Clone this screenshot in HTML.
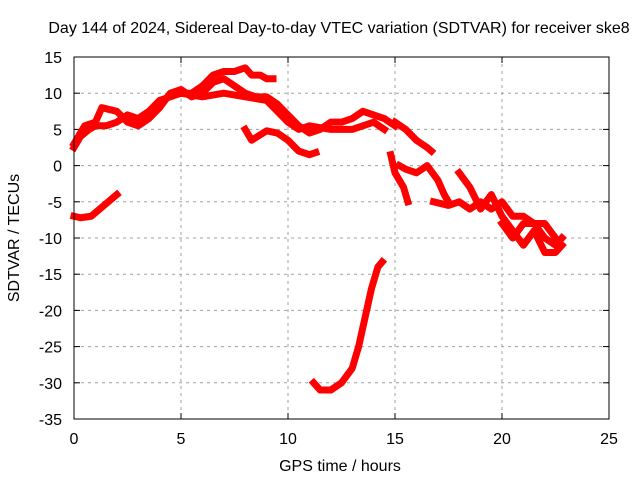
<!DOCTYPE html>
<html><head><meta charset="utf-8"><style>
body{margin:0;background:#fff}
svg text{font-family:"Liberation Sans",sans-serif;font-size:16px;fill:#000}
</style></head><body>
<svg id="chart" width="640" height="480">
<rect width="640" height="480" fill="#fff"/>
<text x="339" y="33" text-anchor="middle">Day 144 of 2024, Sidereal Day-to-day VTEC variation (SDTVAR) for receiver ske8</text>
<text x="340" y="471" text-anchor="middle">GPS time / hours</text>
<text transform="translate(19,238) rotate(-90)" text-anchor="middle">SDTVAR / TECUs</text>
<g id="grid"></g><g id="ticks"></g><g id="series"></g>
<rect x="74" y="57" width="535" height="362" fill="none" stroke="#000"/>
</svg>
<script>
const xTicks=[0,5,10,15,20,25];
const yTicks=[15,10,5,0,-5,-10,-15,-20,-25,-30,-35];
const traceA=[[0,2.5],[0.3,4],[0.7,5],[1,5.5],[1.5,5.5],[2,6],[2.5,7],[3,6.5],[3.5,7.5],[4,9],[4.5,9.5],[5,10],[5.5,10],[6,11],[6.5,12.5],[7,13],[7.5,13],[8,13.5],[8.3,12.5],[8.7,12.5],[9,12],[9.3,12]];
const traceB=[[0,3],[0.5,5.5],[1,6],[1.3,8],[2,7.5],[2.5,6],[3,5.5],[3.5,6.5],[4,8],[4.5,10],[5,10.5],[5.5,9.5],[6,10],[6.5,11.5],[7,12],[7.5,11],[8,10],[8.5,9.5],[9,9.5],[9.5,8.5],[10,7],[10.5,5.5],[11,4.5],[11.5,5],[12,6],[12.5,6],[13,6.5],[13.5,7.5],[14,7],[14.5,6.5],[15,5.5]];
const traceC=[[5,10],[6,9.5],[7,10],[8,9.5],[9,9],[10,6],[10.5,5],[11,5.5],[12,5],[13,5],[14,6],[14.5,5]];
const traceD=[[8,5],[8.3,3.5],[9,4.8],[9.5,4.5],[10,3.5],[10.5,2],[11,1.5],[11.3,1.8]];
const traceE=[[15,6],[15.5,5],[16,3.5],[16.5,2.5],[16.7,2]];
const traceF=[[14.8,1.5],[15,-1],[15.2,-2],[15.4,-3],[15.6,-5]];
const traceG=[[15.2,0],[15.5,-0.5],[16,-1],[16.5,0],[17,-2],[17.3,-4],[17.5,-5]];
const traceH=[[16.8,-5],[17.5,-5.5],[18,-5],[18.5,-6],[19,-5],[19.5,-6],[20,-5],[20.5,-7],[21,-7],[21.5,-8],[22,-10],[22.5,-11],[22.8,-10]];
const traceI=[[18,-1],[18.5,-3],[19,-6],[19.5,-4],[20,-7],[20.5,-9],[21,-11],[21.5,-9],[22,-12],[22.5,-12],[22.8,-11]];
const traceJ=[[20,-8],[20.5,-10],[21,-8],[22,-8],[22.5,-10]];
const traceK=[[0,-7],[0.3,-7.2],[0.8,-7],[1.2,-6],[1.6,-5],[2,-4]];
const traceL=[[11.2,-30],[11.5,-31],[12,-31],[12.5,-30],[13,-28],[13.3,-25],[13.6,-21],[13.9,-17],[14.2,-14],[14.4,-13.3]];
const traces=[traceA,traceB,traceC,traceD,traceE,traceF,traceG,traceH,traceI,traceJ,traceK,traceL];
const X=v=>74+(v-0)/25*535, Y=v=>57+(15-v)/50*362;
const NS="http://www.w3.org/2000/svg";
const grid=document.getElementById('grid'),ticks=document.getElementById('ticks'),ser=document.getElementById('series');
function mk(tag,attrs,parent){const e=document.createElementNS(NS,tag);for(const k in attrs)e.setAttribute(k,attrs[k]);parent.appendChild(e);return e;}
xTicks.forEach(t=>{
 if(t>0&&t<25){const g=mk('line',{x1:X(t),x2:X(t),y1:57,y2:419,stroke:'#a0a0a0','stroke-dasharray':'3,4'},grid);
 
 }
 mk('line',{x1:X(t),x2:X(t),y1:419,y2:413,stroke:'#000'},ticks);
 mk('line',{x1:X(t),x2:X(t),y1:57,y2:63,stroke:'#000'},ticks);
 const l=mk('text',{x:X(t),y:444,'text-anchor':'middle'},ticks);l.textContent=t;
 
 
});
yTicks.forEach(t=>{
 if(t<15&&t>-35){const g=mk('line',{x1:74,x2:609,y1:Y(t),y2:Y(t),stroke:'#a0a0a0','stroke-dasharray':'3,4'},grid);
 
 }
 mk('line',{x1:74,x2:80,y1:Y(t),y2:Y(t),stroke:'#000'},ticks);
 mk('line',{x1:603,x2:609,y1:Y(t),y2:Y(t),stroke:'#000'},ticks);
 const l=mk('text',{x:62,y:Y(t)+6,'text-anchor':'end'},ticks);l.textContent=t;
 
 
});
traces.forEach(tr=>{
 const p=mk('polyline',{points:tr.map(d=>X(d[0])+','+Y(d[1])).join(' '),fill:'none',stroke:'#ff0000','stroke-width':7,'stroke-linejoin':'round','stroke-linecap':'square'},ser);
 
 
});
</script>
</body></html>
